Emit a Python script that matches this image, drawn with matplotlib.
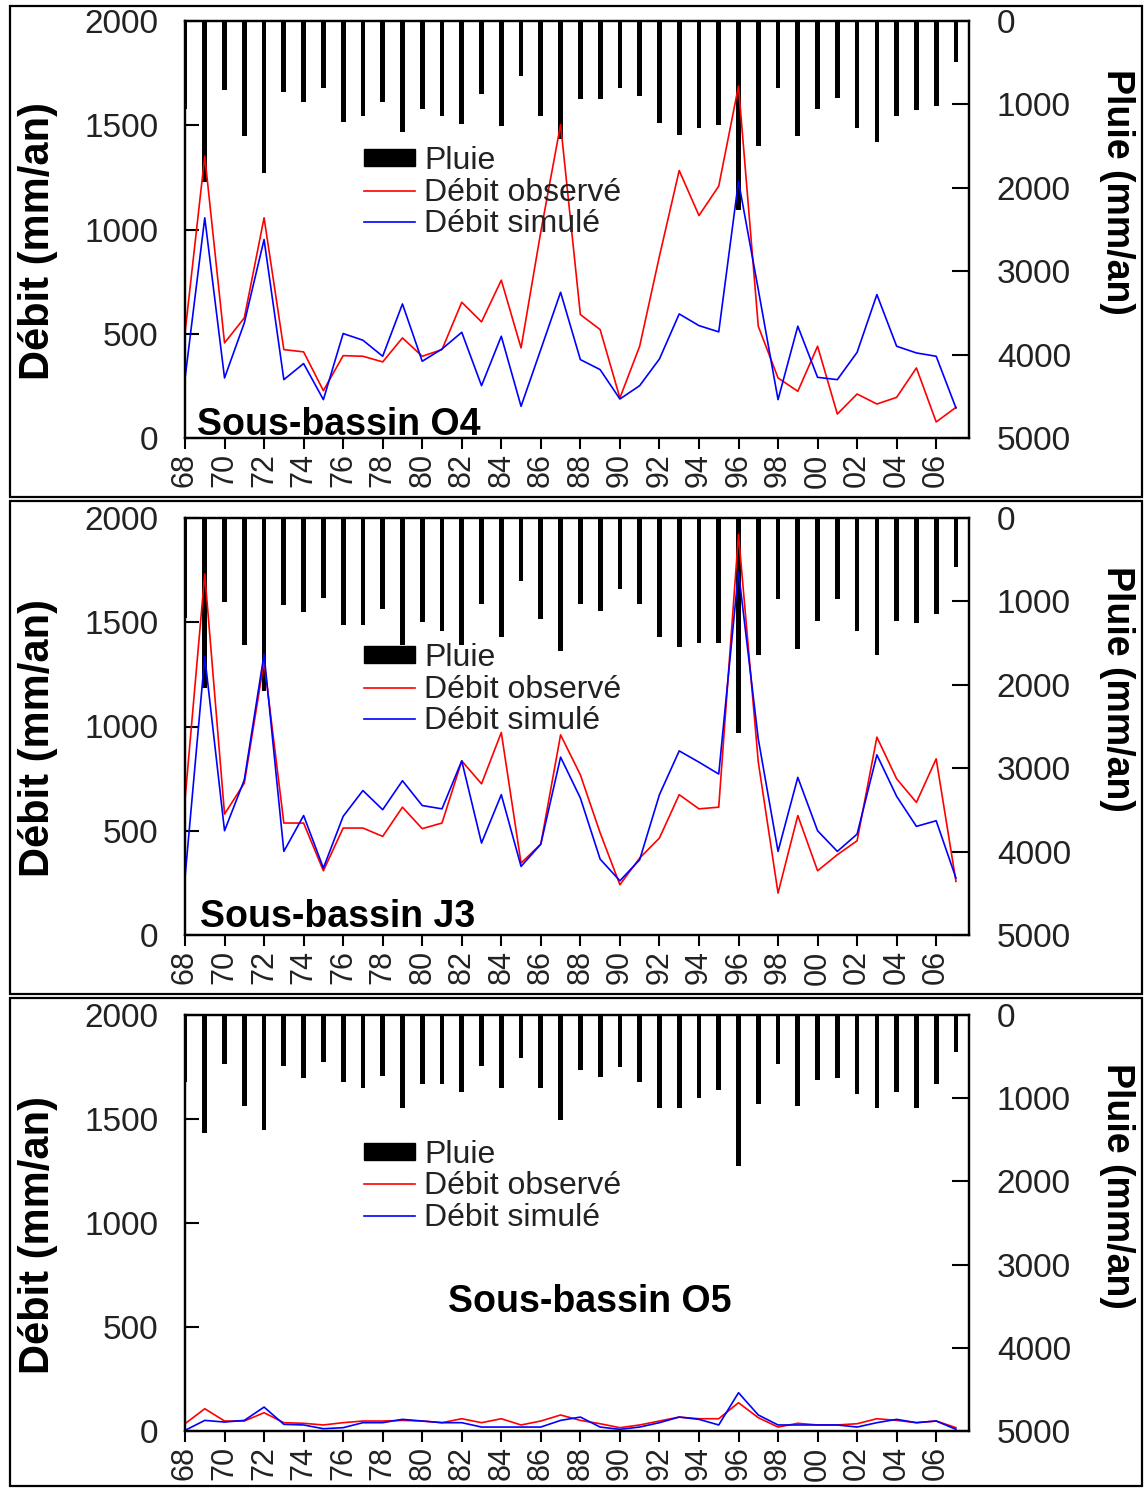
import matplotlib
matplotlib.use("Agg")
import matplotlib.pyplot as plt
from matplotlib.patches import Patch, Rectangle
from matplotlib.lines import Line2D

plt.rcParams["font.family"] = ["Liberation Sans", "DejaVu Sans"]

years = list(range(1968, 2008))
tick_years = list(range(1968, 2008, 2))
tick_labels = ["%02d" % (y % 100) for y in tick_years]

# Sous-bassin O4
pluie_o4 = [1050, 1935, 829, 1382, 1823, 849, 973, 809, 1214, 1141, 973, 1334, 1050, 1141, 1238, 873, 1262, 661, 1141, 1420,
            941, 941, 809, 901, 1222, 1362, 1282, 1242, 2263, 1502, 809, 1382, 1050, 929, 1282, 1454, 1141, 1070, 1021, 488]
obs_o4 = [504, 1352, 456, 576, 1056, 424, 413, 227, 395, 392, 365, 480, 392, 424, 651, 557, 757, 432, 990, 1504,
          592, 520, 192, 440, 872, 1283, 1067, 1208, 1688, 536, 288, 224, 440, 115, 211, 163, 195, 336, 77, 147]
sim_o4 = [285, 1056, 288, 552, 952, 280, 357, 184, 501, 469, 392, 643, 368, 427, 507, 251, 488, 152, 425, 699,
          376, 328, 187, 251, 379, 595, 539, 509, 1232, 712, 184, 536, 291, 280, 411, 688, 440, 408, 392, 144]

# Sous-bassin J3
pluie_j3 = [1205, 2035, 1006, 1524, 2075, 1046, 1125, 954, 1285, 1285, 1093, 1524, 1245, 1357, 1524, 1026, 1425, 758, 1213, 1596,
            1037, 1117, 854, 1037, 1429, 1552, 1496, 1496, 2582, 1644, 974, 1572, 1237, 974, 1357, 1644, 1237, 1257, 1157, 587]
obs_j3 = [649, 1732, 580, 728, 1312, 537, 537, 308, 513, 513, 473, 613, 510, 537, 835, 725, 971, 345, 436, 960,
          768, 490, 241, 369, 465, 673, 605, 613, 1922, 830, 201, 573, 308, 385, 452, 949, 749, 636, 845, 257]
sim_j3 = [276, 1335, 500, 744, 1347, 401, 573, 321, 569, 693, 601, 740, 621, 605, 835, 441, 673, 329, 436, 853,
          657, 364, 260, 361, 673, 883, 829, 772, 1743, 940, 401, 756, 500, 401, 484, 864, 665, 521, 548, 273]

# Sous-bassin O5
pluie_o5 = [800, 1420, 592, 1088, 1380, 612, 752, 568, 808, 872, 732, 1112, 828, 828, 920, 612, 872, 512, 872, 1260,
            660, 748, 628, 800, 1120, 1120, 992, 900, 1812, 1068, 588, 1088, 780, 752, 948, 1120, 920, 1120, 828, 440]
obs_o5 = [35, 107, 48, 48, 88, 40, 37, 29, 40, 48, 48, 51, 48, 40, 59, 40, 59, 29, 48, 77,
          51, 35, 16, 29, 48, 67, 59, 59, 136, 64, 19, 37, 29, 29, 35, 59, 51, 40, 48, 16]
sim_o5 = [3, 51, 43, 51, 115, 32, 29, 11, 16, 40, 40, 56, 48, 40, 40, 19, 19, 19, 19, 51,
          67, 19, 8, 19, 40, 67, 56, 29, 184, 77, 29, 29, 29, 29, 19, 40, 56, 40, 48, 8]

panels = [
    ("Sous-bassin O4", pluie_o4, obs_o4, sim_o4, (0.015, 0.008)),
    ("Sous-bassin J3", pluie_j3, obs_j3, sim_j3, (0.019, 0.018)),
    ("Sous-bassin O5", pluie_o5, obs_o5, sim_o5, (0.335, 0.287)),
]

W, H = 1145, 1488
fig = plt.figure(figsize=(W / 100, H / 100), dpi=100)

# axes boxes in pixels: (top, bottom)
ax_rows = [(21, 438), (518, 935), (1015, 1431)]
frames = [(6, 497), (501, 994), (998, 1486)]
ax_left, ax_right = 185, 969
txt_col = "#222222"

for (name, pluie, obs, sim, tpos), (top, bot), (ftop, fbot) in zip(panels, ax_rows, frames):
    fig.add_artist(Rectangle((10 / W, 1 - fbot / H), 1132 / W, (fbot - ftop) / H,
                             transform=fig.transFigure, fill=False, lw=1.6, color="black"))
    ax = fig.add_axes([ax_left / W, 1 - bot / H, (ax_right - ax_left) / W, (bot - top) / H])
    ax2 = ax.twinx()
    ax2.bar(years, pluie, width=0.24, color="black")
    ax2.set_ylim(5000, 0)
    ax2.set_yticks(range(0, 5001, 1000))

    ax.set_zorder(ax2.get_zorder() + 1)
    ax.patch.set_visible(False)
    ax.plot(years, obs, color="#ff0000", lw=1.2)
    ax.plot(years, sim, color="#0000ff", lw=1.2)
    ax.set_xlim(1968, 2007.66)
    ax.set_ylim(0, 2000)
    ax.set_yticks(range(0, 2001, 500))
    ax.set_xticks(tick_years)
    ax.set_xticklabels(tick_labels, rotation=90)

    ax.tick_params(axis="y", direction="in", length=10, width=1.5, labelsize=24, labelcolor=txt_col, pad=19)
    ax.tick_params(axis="x", direction="out", length=8, width=1.5, labelsize=22, labelcolor=txt_col, pad=3)
    ax2.tick_params(axis="y", direction="in", length=12, width=1.5, labelsize=24, labelcolor=txt_col, pad=20)
    for a in (ax, ax2):
        for s in a.spines.values():
            s.set_linewidth(1.6)

    ax.set_ylabel("Débit (mm/an)", fontsize=30, fontweight="bold", va="center")
    ax.yaxis.set_label_coords(-0.1875, 0.472)
    ax2.set_ylabel("Pluie (mm/an)", fontsize=27, fontweight="bold", rotation=270, va="center")
    ax2.yaxis.set_label_coords(1.189, 0.59)

    ax.text(tpos[0], tpos[1], name, transform=ax.transAxes, fontsize=27, fontweight="bold",
            ha="left", va="baseline")

    handles = [Patch(facecolor="black", edgecolor="black"),
               Line2D([], [], color="#ff0000", lw=1.2),
               Line2D([], [], color="#0000ff", lw=1.2)]
    leg = ax.legend(handles, ["Pluie", "Débit observé", "Débit simulé"], loc="upper left",
                    bbox_to_anchor=(0.228, 0.70), frameon=False, fontsize=23,
                    handlelength=1.6, handleheight=0.45, handletextpad=0.3,
                    labelspacing=0.05, borderpad=0, borderaxespad=0)
    for t in leg.get_texts():
        t.set_color(txt_col)

fig.savefig("out.png", dpi=100)
